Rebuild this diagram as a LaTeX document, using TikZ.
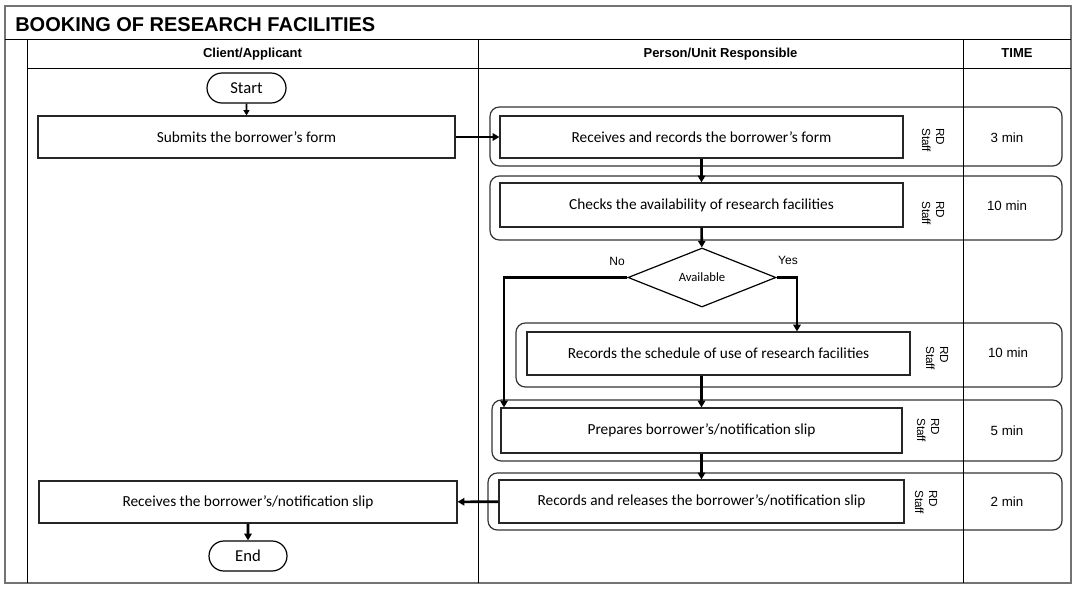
\documentclass[tikz,border=0pt]{standalone}
\usepackage{fontspec}
\setmainfont{Carlito}
\newfontfamily\arialf{Liberation Sans}
\usetikzlibrary{shapes.geometric,shapes.misc,fit,arrows.meta}
\begin{document}
\begin{tikzpicture}[x=0.75pt,y=-0.75pt,
  frame/.style={draw=black!55, line width=1.1pt},
  gline/.style={draw=black, line width=0.7pt},
  box/.style={draw=black!85, line width=0.9pt, inner sep=0pt, font=\fontsize{11.5}{13}\selectfont},
  lane/.style={draw=black!80, line width=0.9pt, rounded corners=7pt, inner sep=0pt},
  term/.style={draw=black, line width=0.9pt, rounded rectangle, inner sep=0pt, font=\fontsize{12.5}{14}\selectfont},
  arr/.style={line width=1.9pt, -{Triangle[length=5pt,width=5.5pt]}},
  thinarr/.style={line width=1.2pt, -{Triangle[length=4pt,width=4.5pt]}},
  hdr/.style={font=\arialf\bfseries\fontsize{9.75}{11}\selectfont, inner sep=0pt, anchor=base},
  tm/.style={font=\arialf\fontsize{10}{12}\selectfont, inner sep=0pt},
  rd/.style={font=\arialf\fontsize{8.8}{10.5}\selectfont, rotate=-90, align=left, inner sep=0pt, anchor=west},
  lbl/.style={font=\arialf\fontsize{9}{11}\selectfont, inner sep=0pt}
]
\useasboundingbox (0,0) rectangle (1077,590);
\fill[white] (0,0) rectangle (1077,590);

% lanes
\node[lane, fit={(490,107) (1062,166)}] (l1) {};
\node[lane, fit={(490,176) (1062,240)}] (l2) {};
\node[lane, fit={(516,323) (1062,387)}] (l3) {};
\node[lane, fit={(492,400) (1062,461)}] (l4) {};
\node[lane, fit={(488,473) (1062,530)}] (l5) {};

% frame and grid
\draw[frame] (5,6) rectangle (1071,583);
\draw[gline] (5,39) -- (1071,39);
\draw[gline] (27,39) -- (27,583);
\draw[gline] (27,68) -- (1071,68);
\draw[gline] (478,39) -- (478,583);
\draw[gline] (963,39) -- (963,583);

% title and headers
\node[anchor=west, inner sep=0pt, font=\arialf\bfseries\fontsize{15}{18}\selectfont] (title) at (15,25) {BOOKING OF RESEARCH FACILITIES};
\node[hdr] (h1) at (252.5,57.6) {Client/Applicant};
\node[hdr] (h2) at (720.5,57.6) {Person/Unit Responsible};
\node[hdr] (h3) at (1017,57.6) {TIME};

% terminals and boxes
\node[term, minimum width=59.25pt, minimum height=22.5pt] (start) at (246.5,88) {Start};
\node[box, minimum width=312.75pt, minimum height=31.5pt] (b1) at (246.5,137) {Submits the borrower’s form};
\node[box, minimum width=302.25pt, minimum height=31.5pt] (b2) at (701.5,137) {Receives and records the borrower’s form};
\node[box, minimum width=302.25pt, minimum height=33pt] (b3) at (701.5,205) {Checks the availability of research facilities};
\node[draw, diamond, aspect=2.5, minimum width=111pt, minimum height=44.25pt, inner sep=0pt, line width=0.9pt, font=\fontsize{9.5}{11}\selectfont] (dia) at (702,277.5) {Available};
\node[box, minimum width=287.25pt, minimum height=32.25pt] (b4) at (718.5,353.5) {Records the schedule of use of research facilities};
\node[box, minimum width=300.75pt, minimum height=33.75pt] (b5) at (701.5,430.5) {Prepares borrower’s/notification slip};
\node[box, minimum width=303.75pt, minimum height=32.25pt] (b6) at (701.5,501.5) {Records and releases the borrower’s/notification slip};
\node[box, minimum width=313.5pt, minimum height=31.5pt] (b7) at (248,502) {Receives the borrower’s/notification slip};
\node[term, minimum width=58.5pt, minimum height=22.5pt] (end) at (248,556) {End};

% labels
\node[lbl] (no) at (617,261) {No};
\node[lbl] (yes) at (788,260) {Yes};

\node[rd] (r1) at (933,128) {RD\\Staff};
\node[rd] (r2) at (933,201) {RD\\Staff};
\node[rd] (r3) at (937,346) {RD\\Staff};
\node[rd] (r4) at (928,418) {RD\\Staff};
\node[rd] (r5) at (926,490) {RD\\Staff};

\node[tm] (t1) at (1007,137.5) {3 min};
\node[tm] (t2) at (1007,206) {10 min};
\node[tm] (t3) at (1008,353) {10 min};
\node[tm] (t4) at (1007,430.5) {5 min};
\node[tm] (t5) at (1007,502) {2 min};

% connectors
\coordinate (nox) at (504,0);
\coordinate (yesx) at (797,0);
\draw[thinarr] (start) -- (b1);
\draw[arr] (b1) -- (b2);
\draw[arr] (b2) -- (b3);
\draw[arr] (b3) -- (dia);
\draw[arr] (dia.west) -| (nox |- b5.north);
\draw[arr] (dia.east) -| (yesx |- b4.north);
\draw[arr] (b4.south -| b5.north) -- (b5.north);
\draw[arr] (b5) -- (b6);
\draw[arr] (b6) -- (b7);
\draw[arr] (b7) -- (end);
\end{tikzpicture}
\end{document}
